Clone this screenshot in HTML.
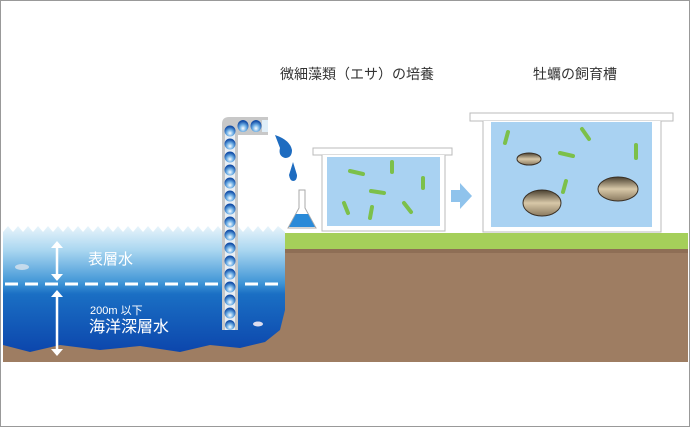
<!DOCTYPE html>
<html><head><meta charset="utf-8"><style>
body{margin:0;background:#fff}
svg{display:block}
text{font-family:"Liberation Sans","Noto Sans CJK JP",sans-serif}
</style></head><body>
<svg width="690" height="427" viewBox="0 0 690 427" xmlns="http://www.w3.org/2000/svg">
<defs>
<linearGradient id="sea" x1="0" y1="0" x2="0" y2="1">
<stop offset="0" stop-color="#e8f4fb"/><stop offset="0.18" stop-color="#a9d6f0"/><stop offset="0.42" stop-color="#3f95d6"/><stop offset="0.5" stop-color="#1a6fc4"/><stop offset="1" stop-color="#0a3fa8"/>
</linearGradient>
<radialGradient id="ball" cx="0.5" cy="0.7" r="0.6"><stop offset="0" stop-color="#fff"/><stop offset="0.5" stop-color="#6fb0e6"/><stop offset="1" stop-color="#1550a8"/></radialGradient>
<linearGradient id="shell" x1="0" y1="0" x2="0" y2="1"><stop offset="0" stop-color="#4a4030"/><stop offset="0.5" stop-color="#d8c8a8"/><stop offset="1" stop-color="#8a7a60"/></linearGradient>
</defs>
<rect x="0.5" y="0.5" width="689" height="426" fill="#fff" stroke="#999"/>
<path d="M3 232 L8 226 L13 232 L18 226 L23 232 L28 226 L33 232 L38 226 L43 232 L48 226 L53 232 L58 226 L63 232 L68 226 L73 232 L78 226 L83 232 L88 226 L93 232 L98 226 L103 232 L108 226 L113 232 L118 226 L123 232 L128 226 L133 232 L138 226 L143 232 L148 226 L153 232 L158 226 L163 232 L168 226 L173 232 L178 226 L183 232 L188 226 L193 232 L198 226 L203 232 L208 226 L213 232 L218 226 L223 232 L228 226 L233 232 L238 226 L243 232 L248 226 L253 232 L258 226 L263 232 L268 226 L273 232 L278 226 L285 232 L285 362 L3 362 Z" fill="url(#sea)"/>
<rect x="285" y="233" width="403" height="16" fill="#a5cf5a"/>
<path d="M285 249 L688 249 L688 362 L3 362 L3 345 L30 352 L60 345 L100 350 L140 346 L180 352 L210 345 L240 348 L265 342 L280 330 L285 310 Z" fill="#9e7d62"/>
<rect x="285" y="249" width="403" height="4" fill="#8e6e55"/>
<line x1="5" y1="284" x2="280" y2="284" stroke="#fff" stroke-width="3" stroke-dasharray="13,7"/>
<g stroke="#fff" stroke-width="2.5" fill="#fff">
<line x1="57" y1="245" x2="57" y2="277"/><path d="M51 248 L57 241 L63 248 Z" stroke="none"/><path d="M51 274 L57 281 L63 274 Z" stroke="none"/>
<line x1="57" y1="294" x2="57" y2="352"/><path d="M51 297 L57 290 L63 297 Z" stroke="none"/><path d="M51 349 L57 356 L63 349 Z" stroke="none"/>
</g>
<text x="88" y="264" font-size="15" fill="#fff">表層水</text>
<text x="90" y="314" font-size="11" fill="#fff">200m 以下</text>
<text x="89" y="332" font-size="16" fill="#fff">海洋深層水</text>
<ellipse cx="22" cy="267" rx="7" ry="3" fill="#d8e4ee" opacity="0.8"/>
<ellipse cx="258" cy="324" rx="5" ry="2.5" fill="#dde"/>
<path d="M222 330 L222 124 Q222 117 229 117 L268 117 L268 135 L238 135 L238 330 Z" fill="#c8c8c8"/>
<rect x="225" y="132" width="10" height="198" fill="#e8eef4"/>
<g fill="url(#ball)">
<ellipse cx="230" cy="131" rx="5.5" ry="5.5"/><ellipse cx="230" cy="144" rx="5.5" ry="5.5"/><ellipse cx="230" cy="157" rx="5.5" ry="5.5"/><ellipse cx="230" cy="170" rx="5.5" ry="5.5"/><ellipse cx="230" cy="183" rx="5.5" ry="5.5"/><ellipse cx="230" cy="196" rx="5.5" ry="5.5"/><ellipse cx="230" cy="209" rx="5.5" ry="5.5"/><ellipse cx="230" cy="222" rx="5.5" ry="5.5"/><ellipse cx="230" cy="235" rx="5.5" ry="5.5"/><ellipse cx="230" cy="248" rx="5.5" ry="5.5"/><ellipse cx="230" cy="261" rx="5.5" ry="5.5"/><ellipse cx="230" cy="274" rx="5.5" ry="5.5"/><ellipse cx="230" cy="287" rx="5.5" ry="5.5"/><ellipse cx="230" cy="300" rx="5.5" ry="5.5"/><ellipse cx="230" cy="313" rx="5.5" ry="5.5"/><ellipse cx="230" cy="325" rx="5" ry="5"/>
<ellipse cx="243" cy="126" rx="5.5" ry="6"/><ellipse cx="256" cy="126" rx="5.5" ry="6"/>
</g>
<rect x="262" y="120" width="6" height="12" fill="#e0eef8"/>
<path d="M275 135 Q290 140 292 150 Q292 158 285 158 Q278 156 280 148 Z" fill="#1e6cc0"/>
<path d="M293 162 Q290 172 289 175 Q290 181 293 181 Q297 181 297 175 Z" fill="#1e6cc0"/>
<path d="M299 190 L305 190 L305 208 L316 228 L288 228 L299 208 Z" fill="#fff" stroke="#aaa"/>
<path d="M296 214 L308 214 L315 227 L289 227 Z" fill="#2a8ad8"/>
<rect x="313" y="148" width="139" height="7" fill="#fff" stroke="#bbb"/>
<path d="M322 155 L322 231 L445 231 L445 155" fill="#fff" stroke="#bbb"/>
<rect x="327" y="157" width="113" height="69" fill="#a9d2f2"/>
<rect x="470" y="113" width="203" height="8" fill="#fff" stroke="#bbb"/>
<path d="M483 121 L483 232 L661 232 L661 121" fill="#fff" stroke="#bbb"/>
<rect x="491" y="122" width="161" height="105" fill="#a9d2f2"/>
<g stroke="#7cc04a" stroke-width="4" stroke-linecap="round">
<line x1="350" y1="171" x2="363" y2="174"/><line x1="392" y1="162" x2="392" y2="172"/><line x1="423" y1="178" x2="423" y2="188"/><line x1="371" y1="191" x2="384" y2="193"/><line x1="344" y1="203" x2="348" y2="213"/><line x1="372" y1="207" x2="370" y2="218"/><line x1="404" y1="203" x2="411" y2="212"/>
<line x1="508" y1="132" x2="505" y2="143"/><line x1="582" y1="129" x2="589" y2="139"/><line x1="636" y1="145" x2="636" y2="158"/><line x1="560" y1="153" x2="573" y2="156"/><line x1="566" y1="181" x2="563" y2="192"/>
</g>
<ellipse cx="529" cy="159" rx="12" ry="6" fill="url(#shell)" stroke="#3a3025" stroke-width="1"/>
<ellipse cx="542" cy="203" rx="19" ry="13" fill="url(#shell)" stroke="#3a3025" stroke-width="1"/>
<ellipse cx="618" cy="189" rx="20" ry="12" fill="url(#shell)" stroke="#3a3025" stroke-width="1"/>
<path d="M451 190 L460 190 L460 183 L472 196 L460 209 L460 202 L451 202 Z" fill="#8fc3ec"/>
<text x="280" y="79" font-size="14" fill="#333">微細藻類（エサ）の培養</text>
<text x="533" y="79" font-size="14" fill="#333">牡蠣の飼育槽</text>
</svg>
</body></html>
